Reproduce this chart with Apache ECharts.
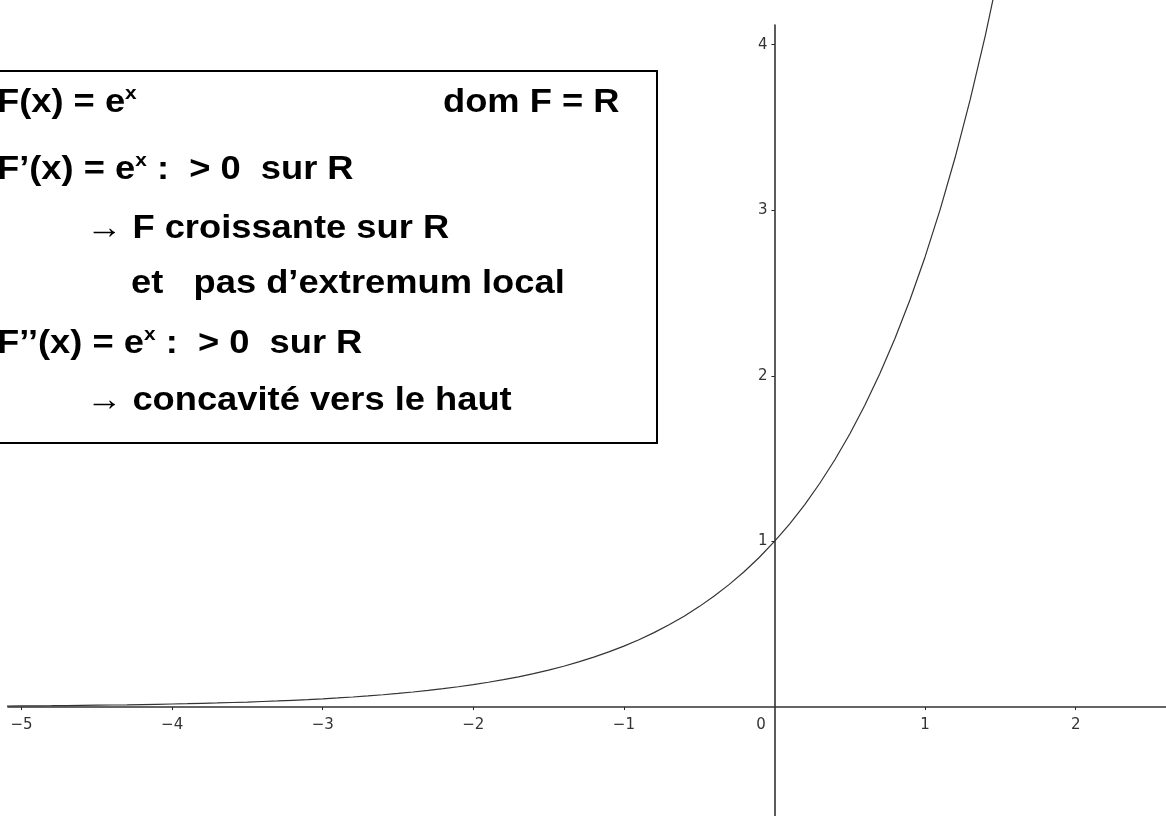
<!DOCTYPE html>
<html>
<head>
<meta charset="utf-8">
<script src="https://cdn.jsdelivr.net/npm/echarts@6/dist/echarts.min.js"></script>
<style>
  html, body { margin: 0; padding: 0; background: #fff; }
  #chart { width: 1166px; height: 816px; }
</style>
</head>
<body>
<div id="chart"></div>
<script>
// Sample points of F(x) = e^x
const xValues = [
  -5.1, -5.0, -4.9, -4.8, -4.7, -4.6, -4.5, -4.4, -4.3, -4.2, -4.1,
  -4.0, -3.9, -3.8, -3.7, -3.6, -3.5, -3.4, -3.3, -3.2, -3.1,
  -3.0, -2.9, -2.8, -2.7, -2.6, -2.5, -2.4, -2.3, -2.2, -2.1,
  -2.0, -1.9, -1.8, -1.7, -1.6, -1.5, -1.4, -1.3, -1.2, -1.1,
  -1.0, -0.9, -0.8, -0.7, -0.6, -0.5, -0.4, -0.3, -0.2, -0.1,
  0.0, 0.1, 0.2, 0.3, 0.4, 0.5, 0.6, 0.7, 0.8, 0.9,
  1.0, 1.1, 1.2, 1.3, 1.4, 1.5
];
const yValues = [
  0.0061, 0.0067, 0.0074, 0.0082, 0.0091, 0.0101, 0.0111, 0.0123, 0.0136, 0.0150, 0.0166,
  0.0183, 0.0202, 0.0224, 0.0247, 0.0273, 0.0302, 0.0334, 0.0369, 0.0408, 0.0450,
  0.0498, 0.0550, 0.0608, 0.0672, 0.0743, 0.0821, 0.0907, 0.1003, 0.1108, 0.1225,
  0.1353, 0.1496, 0.1653, 0.1827, 0.2019, 0.2231, 0.2466, 0.2725, 0.3012, 0.3329,
  0.3679, 0.4066, 0.4493, 0.4966, 0.5488, 0.6065, 0.6703, 0.7408, 0.8187, 0.9048,
  1.0000, 1.1052, 1.2214, 1.3499, 1.4918, 1.6487, 1.8221, 2.0138, 2.2255, 2.4596,
  2.7183, 3.0042, 3.3201, 3.6693, 4.0552, 4.4817
];

// Axis ticks
const xTicks = [-5, -4, -3, -2, -1, 0, 1, 2];
const yTicks = [1, 2, 3, 4];

// Annotation lines (rich markup {s|x} is the exponent)
const boxLines = [
  'F(x) = e{s|x}',
  'F\u2019(x) = e{s|x} :  > 0  sur R',
  '\u2192 F croissante sur R',
  'et   pas d\u2019extremum local',
  'F\u2019\u2019(x) = e{s|x} :  > 0  sur R',
  '\u2192 concavit\u00e9 vers le haut'
];
const domLabel = 'dom F = R';

// Plot area and axis ranges
const W = 1166, H = 816;
const gridL = 8, gridT = 25;
const xMin = -5.09, xMax = 2.6;
const yMin = -0.658, yMax = 4.119;

const chart = echarts.init(document.getElementById('chart'), null, { renderer: 'canvas' });

// pixel position of the value 0 on each axis, used to cross the axes at the origin
const plotW = W - gridL, plotH = H - gridT;
const zeroX = gridL + (0 - xMin) / (xMax - xMin) * plotW;
const zeroY = gridT + (yMax - 0) / (yMax - yMin) * plotH;

const fmt = v => (v < 0 ? '\u2212' + Math.abs(v) : (v === 0 ? '{z|0}' : String(v)));

const FONT = 'Liberation Sans, Arial, sans-serif';
const textFont = { fontFamily: FONT, fontWeight: 'bold', fontSize: 33 };
const supStyle = { fontFamily: FONT, fontWeight: 'bold', fontSize: 19, verticalAlign: 'top', lineHeight: 15, fill: '#000' };

const lineX = [-3, -3, 86, 131, -3, 86];
const lineY = [103, 170, 229, 284, 344, 401];

const graphics = [
  {
    type: 'rect', z: 10,
    shape: { x: -10, y: 71, width: 667, height: 372 },
    style: { fill: '#fff', stroke: '#000', lineWidth: 2 }
  }
];
boxLines.forEach((t, i) => {
  graphics.push({
    type: 'text', z: 11, x: lineX[i], y: lineY[i], scaleX: 1.1,
    style: Object.assign({
      text: t, fill: '#000', align: 'left', verticalAlign: 'middle', lineHeight: 38,
      rich: { s: supStyle }
    }, textFont)
  });
});
graphics.push({
  type: 'text', z: 11, x: 443, y: 103, scaleX: 1.1,
  style: Object.assign({ text: domLabel, fill: '#000', align: 'left', verticalAlign: 'middle' }, textFont)
});

const labelFont = { fontFamily: 'DejaVu Sans', fontSize: 15, color: '#333' };

chart.setOption({
  backgroundColor: '#fff',
  animation: false,
  grid: { left: gridL, right: 0, top: gridT, bottom: 0, containLabel: false, outerBoundsMode: 'none' },
  xAxis: {
    type: 'value', min: xMin, max: xMax,
    position: 'bottom',
    offset: -(H - zeroY),
    axisLine: { onZero: false, lineStyle: { color: '#333', width: 1.6 } },
    axisTick: { show: true, length: 3, customValues: xTicks.filter(v => v !== 0), lineStyle: { color: '#222', width: 1 } },
    axisLabel: Object.assign({
      customValues: xTicks, formatter: fmt, margin: 11,
      rich: { z: Object.assign({ padding: [0, 27, 0, 0] }, labelFont) }
    }, labelFont),
    splitLine: { show: false }
  },
  yAxis: {
    type: 'value', min: yMin, max: yMax,
    position: 'left',
    offset: -(zeroX - gridL),
    axisLine: { onZero: false, lineStyle: { color: '#333', width: 1.6 } },
    axisTick: { show: true, length: 3, customValues: yTicks, lineStyle: { color: '#222', width: 1 } },
    axisLabel: Object.assign({ customValues: yTicks, margin: 7, padding: [5, 0, 0, 0] }, labelFont),
    splitLine: { show: false }
  },
  series: [{
    type: 'line',
    data: xValues.map((x, i) => [x, yValues[i]]),
    showSymbol: false,
    smooth: false,
    clip: false,
    lineStyle: { color: '#333', width: 1.2 }
  }],
  graphic: graphics
});
</script>
</body>
</html>
